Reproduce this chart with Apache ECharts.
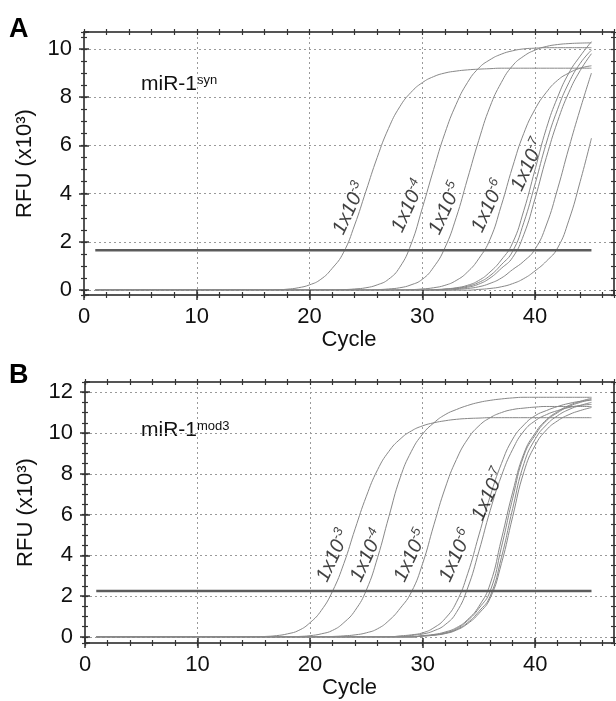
<!DOCTYPE html>
<html><head><meta charset="utf-8">
<script src="https://cdn.jsdelivr.net/npm/echarts@6/dist/echarts.min.js"></script>
<style>html,body{margin:0;padding:0;background:#fff}#c{width:616px;height:701px}</style>
</head><body><div id="c"></div>
<script>
// ---------- data ----------
const cycles = [1,2,3,4,5,6,7,8,9,10,11,12,13,14,15,16,17,18,19,20,21,22,23,24,25,26,27,28,29,30,31,32,33,34,35,36,37,38,39,40,41,42,43,44,45];
const xTicksMajor = [0,10,20,30,40];

// Panel A: miR-1 syn (RFU x10^3)
const thresholdA = 1.65;
const a1 = [0,0,0,0,0,0,0,0,0,0,0,0,0,0,0,0, 0.01,0.04,0.1,0.22,0.45,0.9,1.55,2.7,4.1,5.5,6.7,7.6,8.2,8.6,8.85,9.0,9.08,9.13,9.16,9.18, 9.2,9.2,9.2,9.2,9.2,9.2,9.2,9.2,9.2];
const a2 = [0,0,0,0,0,0,0,0,0,0,0,0,0,0,0,0,0,0,0,0,0,0, 0.02,0.05,0.1,0.22,0.45,0.95,1.9,3.4,5.0,6.5,7.7,8.6,9.2,9.55,9.78,9.92,10.0,10.03, 10.05,10.05,10.05,10.05,10.05];
const a3 = [0,0,0,0,0,0,0,0,0,0,0,0,0,0,0,0,0,0,0,0,0,0,0,0,0, 0.02,0.05,0.1,0.22,0.45,0.95,1.75,3.0,4.6,6.2,7.6,8.6,9.3,9.7,9.95,10.1,10.18,10.22,10.24,10.25];
const a4 = [0,0,0,0,0,0,0,0,0,0,0,0,0,0,0,0,0,0,0,0,0,0,0,0,0,0,0,0, 0.02,0.05,0.1,0.2,0.4,0.75,1.3,2.1,3.5,5.1,6.5,7.5,8.2,8.7,9.0,9.2,9.3];
const a5 = [0,0,0,0,0,0,0,0,0,0,0,0,0,0,0,0,0,0,0,0,0,0,0,0,0,0,0,0,0,0, 0.02,0.05,0.1,0.2,0.4,0.75,1.25,1.95,3.3,5.0,6.7,8.0,9.0,9.7,10.3];
const a6 = [0,0,0,0,0,0,0,0,0,0,0,0,0,0,0,0,0,0,0,0,0,0,0,0,0,0,0,0,0,0,0, 0.04,0.08,0.16,0.32,0.6,1.05,1.6,2.8,4.4,6.1,7.5,8.6,9.4,9.95];
const a7 = [0,0,0,0,0,0,0,0,0,0,0,0,0,0,0,0,0,0,0,0,0,0,0,0,0,0,0,0,0,0,0, 0.03,0.06,0.12,0.25,0.5,0.9,1.35,2.3,3.8,5.5,7.0,8.2,9.1,9.8];
const a8 = [0,0,0,0,0,0,0,0,0,0,0,0,0,0,0,0,0,0,0,0,0,0,0,0,0,0,0,0,0,0,0,0, 0.03,0.07,0.14,0.28,0.5,0.85,1.2,1.7,2.7,4.2,5.9,7.5,9.0];
const a9 = [0,0,0,0,0,0,0,0,0,0,0,0,0,0,0,0,0,0,0,0,0,0,0,0,0,0,0,0,0,0,0,0,0,0, 0.03,0.07,0.14,0.27,0.48,0.8,1.2,1.75,2.9,4.5,6.3];
const curvesA = [a1,a2,a3,a4,a5,a6,a7,a8,a9];

// Panel B: miR-1 mod3
const thresholdB = 2.25;
const b1 = [0,0,0,0,0,0,0,0,0,0,0,0,0,0,0, 0.02,0.06,0.15,0.32,0.7,1.3,2.25,3.6,5.3,6.9,8.2,9.1,9.7,10.1,10.35,10.5,10.6,10.67,10.71,10.73, 10.75,10.75,10.75,10.75,10.75,10.75,10.75,10.75,10.75,10.75];
const b2 = [0,0,0,0,0,0,0,0,0,0,0,0,0,0,0,0,0,0, 0.02,0.06,0.15,0.32,0.7,1.3,2.3,3.9,5.9,7.8,9.1,9.95,10.5,10.9,11.15,11.35,11.5,11.6,11.67,11.72, 11.75,11.75,11.75,11.75,11.75,11.75,11.75];
const b3 = [0,0,0,0,0,0,0,0,0,0,0,0,0,0,0,0,0,0,0,0,0, 0.02,0.05,0.1,0.2,0.4,0.8,1.4,2.2,3.6,5.5,7.3,8.7,9.7,10.35,10.75,11.0,11.15,11.22,11.27, 11.3,11.3,11.3,11.3,11.3];
const b4 = [0,0,0,0,0,0,0,0,0,0,0,0,0,0,0,0,0,0,0,0,0,0,0,0,0,0,0, 0.05,0.1,0.2,0.45,0.9,1.7,3.1,5.0,6.9,8.5,9.7,10.4,10.85,11.1,11.3,11.45,11.55,11.6];
const b5 = [0,0,0,0,0,0,0,0,0,0,0,0,0,0,0,0,0,0,0,0,0,0,0,0,0,0,0,0, 0.07,0.14,0.3,0.6,1.2,2.4,4.2,6.2,7.9,9.2,10.1,10.6,10.9,11.1,11.25,11.35,11.4];
const b6 = [0,0,0,0,0,0,0,0,0,0,0,0,0,0,0,0,0,0,0,0,0,0,0,0,0,0,0,0,0, 0.06,0.12,0.24,0.45,0.85,1.5,2.6,4.8,7.1,9.0,10.0,10.65,11.05,11.35,11.55,11.7];
const b7 = [0,0,0,0,0,0,0,0,0,0,0,0,0,0,0,0,0,0,0,0,0,0,0,0,0,0,0,0,0, 0.05,0.1,0.2,0.4,0.8,1.4,2.25,4.4,6.8,8.9,9.9,10.6,11.0,11.3,11.5,11.65];
const b8 = [0,0,0,0,0,0,0,0,0,0,0,0,0,0,0,0,0,0,0,0,0,0,0,0,0,0,0,0,0, 0.04,0.09,0.18,0.36,0.7,1.25,2.0,3.9,6.3,8.5,9.7,10.4,10.85,11.15,11.35,11.5];
const b9 = [0,0,0,0,0,0,0,0,0,0,0,0,0,0,0,0,0,0,0,0,0,0,0,0,0,0,0,0,0, 0.04,0.08,0.16,0.33,0.65,1.15,1.9,3.6,5.9,8.1,9.4,10.15,10.6,10.9,11.1,11.25];
const curvesB = [b1,b2,b3,b4,b5,b6,b7,b8,b9];

// dilution labels (exponents) and their anchor positions [cycle, RFU]
const labelExp = ['-3','-4','-5','-6','-7'];
const labelCycleA = [23.5,28.7,32.0,35.8,39.3];
const labelValA = [3.4,3.5,3.4,3.5,5.2];
const labelCycleB = [22.0,25.0,28.9,32.9,35.8];
const labelValB = [4.0,4.0,4.0,4.0,7.0];

// ---------- chart ----------
const FONT = '"Liberation Sans", Arial, Helvetica, sans-serif';
const INK = '#111';
const BORDER = '#555';
const CURVE = '#888888';

const panels = [
  {grid:{left:84,right:2,top:32,height:263}, ymin:-0.2, ymax:10.7, curves:curvesA, thr:thresholdA,
   lx:labelCycleA, ly:labelValA},
  {grid:{left:85,right:2,top:382,height:261}, ymin:-0.3, ymax:12.5, curves:curvesB, thr:thresholdB,
   lx:labelCycleB, ly:labelValB}
];

const grids=[], xAxis=[], yAxis=[], series=[];
function base(g,pos,min,max,tick){
  return Object.assign({type:'value', gridIndex:g, position:pos, min:min, max:max,
    axisLine:{show:false,onZero:false}, axisTick:{show:false}, axisLabel:{show:false},
    splitLine:{show:false}, z:5}, tick);
}
panels.forEach((p,g)=>{
  grids.push(Object.assign({containLabel:false}, p.grid));
  const xMajor={interval:10}, xMinor={interval:2};
  const yMajor={minInterval:2,maxInterval:2,splitNumber:5};
  const yMinor={minInterval:0.5,maxInterval:0.5,splitNumber:20};
  const tk=(len,inside,w)=>({show:true,length:len,inside:inside,lineStyle:{color:'#333',width:w}});
  // x axes
  const xMainIdx = xAxis.length;
  xAxis.push(base(g,'bottom',0,47,Object.assign({
    axisLine:{show:true,onZero:false,lineStyle:{color:BORDER,width:2}},
    axisTick:tk(5,false,1.5),
    axisLabel:{show:true,fontSize:22,color:INK,fontFamily:FONT,margin:11,showMaxLabel:false},
    splitLine:{show:true,lineStyle:{color:'#9a9a9a',width:1,type:[2,3]}},
    name:'Cycle', nameLocation:'middle', nameGap:34,
    nameTextStyle:{fontSize:22,color:INK,fontFamily:FONT}
  },xMajor)));
  xAxis.push(base(g,'bottom',0,47,Object.assign({axisTick:tk(5,true,1.5)},xMajor)));
  xAxis.push(base(g,'bottom',0,47,Object.assign({axisTick:tk(3,false,1.2)},xMinor)));
  xAxis.push(base(g,'bottom',0,47,Object.assign({axisTick:tk(3,true,1.2)},xMinor)));
  xAxis.push(base(g,'top',0,47,Object.assign({axisLine:{show:true,onZero:false,lineStyle:{color:BORDER,width:2}},axisTick:tk(3,true,1.2)},xMinor)));
  xAxis.push(base(g,'top',0,47,Object.assign({axisTick:tk(3,false,1.2)},xMinor)));
  // y axes
  const yMainIdx = yAxis.length;
  yAxis.push(base(g,'left',p.ymin,p.ymax,Object.assign({
    axisLine:{show:true,onZero:false,lineStyle:{color:BORDER,width:2}},
    axisTick:tk(5,false,1.5),
    axisLabel:{show:true,fontSize:22,color:INK,fontFamily:FONT,margin:12,showMinLabel:false,showMaxLabel:false},
    splitLine:{show:true,lineStyle:{color:'#9a9a9a',width:1,type:[2,3]}},
    name:'RFU (x10³)', nameLocation:'middle', nameGap:48,
    nameTextStyle:{fontSize:22,color:INK,fontFamily:FONT}
  },yMajor)));
  yAxis.push(base(g,'left',p.ymin,p.ymax,Object.assign({axisTick:tk(5,true,1.5)},yMajor)));
  yAxis.push(base(g,'left',p.ymin,p.ymax,Object.assign({axisTick:tk(3,false,1.2)},yMinor)));
  yAxis.push(base(g,'left',p.ymin,p.ymax,Object.assign({axisTick:tk(3,true,1.2)},yMinor)));
  yAxis.push(base(g,'right',p.ymin,p.ymax,Object.assign({axisLine:{show:true,onZero:false,lineStyle:{color:BORDER,width:2}},axisTick:tk(3,true,1.2)},yMinor)));
  yAxis.push(base(g,'right',p.ymin,p.ymax,Object.assign({axisTick:tk(3,false,1.2)},yMinor)));

  p.curves.forEach(c=>{
    series.push({type:'line', xAxisIndex:xMainIdx, yAxisIndex:yMainIdx, showSymbol:false, silent:true,
      smooth:0.5, data:cycles.map((x,i)=>[x,c[i]]),
      lineStyle:{color:CURVE,width:1}, z:3});
  });
  series.push({type:'line', xAxisIndex:xMainIdx, yAxisIndex:yMainIdx, showSymbol:false, silent:true,
    data:[[cycles[0],p.thr],[cycles[cycles.length-1],p.thr]],
    lineStyle:{color:'#5c5c5c',width:2.5}, z:4});
  series.push({type:'scatter', xAxisIndex:xMainIdx, yAxisIndex:yMainIdx, symbolSize:0, silent:true, z:6,
    data:p.lx.map((x,i)=>({value:[x,p.ly[i]], label:{formatter:'{n|1x10}{s|'+labelExp[i]+'}'}})),
    label:{show:true, position:'inside', rotate:65,
      rich:{n:{fontSize:20,fontStyle:'italic',fontFamily:FONT,color:INK,lineHeight:22,verticalAlign:'bottom'},
            s:{fontSize:13,fontStyle:'italic',fontFamily:FONT,color:INK,lineHeight:11,verticalAlign:'top'}}}});
});

const chart = echarts.init(document.getElementById('c'), null, {renderer:'canvas'});
chart.setOption({
  animation:false, backgroundColor:'#fff',
  grid:grids, xAxis:xAxis, yAxis:yAxis, series:series,
  graphic:[
    {type:'text', left:9, top:16, style:{text:'A', font:'bold 27px '+FONT, fill:'#000'}},
    {type:'text', left:9, top:362, style:{text:'B', font:'bold 27px '+FONT, fill:'#000'}},
    {type:'text', left:141, top:74, style:{text:'{a|miR-1}{b|syn}',
      rich:{a:{fontSize:21,fontFamily:FONT,fill:INK,color:INK},b:{fontSize:13,fontFamily:FONT,fill:INK,color:INK,verticalAlign:'top'}}}},
    {type:'text', left:141, top:420, style:{text:'{a|miR-1}{b|mod3}',
      rich:{a:{fontSize:21,fontFamily:FONT,fill:INK,color:INK},b:{fontSize:13,fontFamily:FONT,fill:INK,color:INK,verticalAlign:'top'}}}}
  ]
});
</script>
</body></html>
